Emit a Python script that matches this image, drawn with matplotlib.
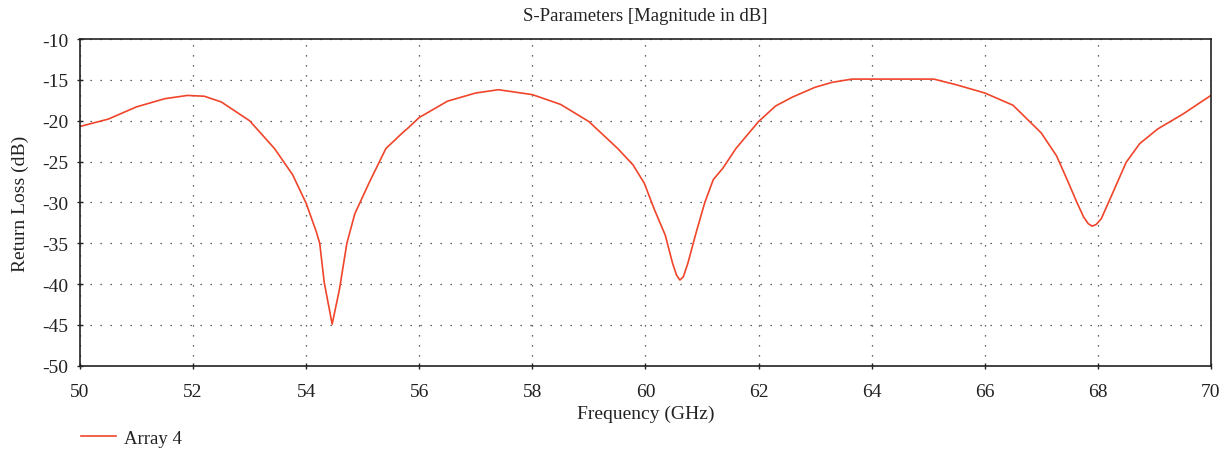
import numpy as np
import matplotlib
matplotlib.use("Agg")
import matplotlib.pyplot as plt

# values
freq_ghz = [50.0, 50.5, 50.7, 51.0, 51.5, 51.9, 52.2, 52.5, 53.0, 53.44,
            53.76, 54.0, 54.18, 54.24, 54.32, 54.46, 54.59, 54.72, 54.86,
            55.12, 55.41, 55.7, 55.8, 56.0, 56.5, 57.0, 57.4, 58.0, 58.5,
            59.0, 59.51, 59.78, 59.98, 60.16, 60.35, 60.48, 60.55, 60.61,
            60.67, 60.75, 60.9, 61.05, 61.2, 61.37, 61.6, 62.0, 62.3, 62.6,
            63.0, 63.3, 63.65, 65.1, 65.5, 66.0, 66.5, 67.0, 67.27, 67.45,
            67.63, 67.75, 67.83, 67.9, 67.97, 68.06, 68.24, 68.5, 68.74,
            69.06, 69.5, 70.0]
return_loss_db = [-20.7, -19.8, -19.2, -18.3, -17.3, -16.9, -17.0, -17.7,
                  -20.0, -23.4, -26.6, -30.1, -33.6, -35.0, -39.8, -44.9,
                  -40.6, -35.0, -31.4, -27.5, -23.4, -21.5, -20.9, -19.6,
                  -17.6, -16.6, -16.2, -16.8, -18.0, -20.1, -23.4, -25.4,
                  -27.65, -30.9, -34.0, -37.45, -38.9, -39.5, -39.1, -37.45,
                  -33.6, -30.0, -27.2, -25.8, -23.4, -20.1, -18.2, -17.1,
                  -15.9, -15.3, -14.9, -14.9, -15.6, -16.6, -18.1, -21.5,
                  -24.3, -27.1, -30.0, -31.8, -32.6, -32.9, -32.7, -32.0,
                  -29.2, -25.1, -22.8, -21.0, -19.2, -16.9]

x_ticks = np.arange(50, 71, 2)
y_ticks = np.arange(-50, -9, 5)

plt.rcParams['font.family'] = ['Liberation Serif', 'DejaVu Serif']
plt.rcParams['axes.unicode_minus'] = False

fig = plt.figure(figsize=(12.3, 4.77), dpi=100)
ax = fig.add_axes([0.065, 0.231, 0.9195, 0.685])

ax.plot(freq_ghz, return_loss_db, color='#f0452a', linewidth=1.2, label='Array 4')

ax.set_xlim(50, 70)
ax.set_ylim(-50, -10)
ax.set_xticks(x_ticks)
ax.set_yticks(y_ticks)
ax.grid(True, color='#333333', linestyle=(0, (1, 7)), linewidth=0.9)
ax.tick_params(direction='inout', length=5, width=1, colors='#222222', labelsize=14)
ax.tick_params(axis='x', pad=10)
ax.tick_params(axis='y', pad=6)
for s in ax.spines.values():
    s.set_linewidth(1.2)
    s.set_color('#222222')

ax.set_title('S-Parameters [Magnitude in dB]', fontsize=13.5, pad=14, color='#222222')
ax.set_xlabel('Frequency (GHz)', fontsize=14, color='#222222', labelpad=3)
ax.set_ylabel('Return Loss (dB)', fontsize=14, color='#222222', labelpad=9)

fig.legend(loc='lower left', bbox_to_anchor=(0.052, 0.026), frameon=False,
           fontsize=13.5, handlelength=1.87, handletextpad=0.45,
           labelcolor='#222222')

fig.savefig('out.png', dpi=100)
